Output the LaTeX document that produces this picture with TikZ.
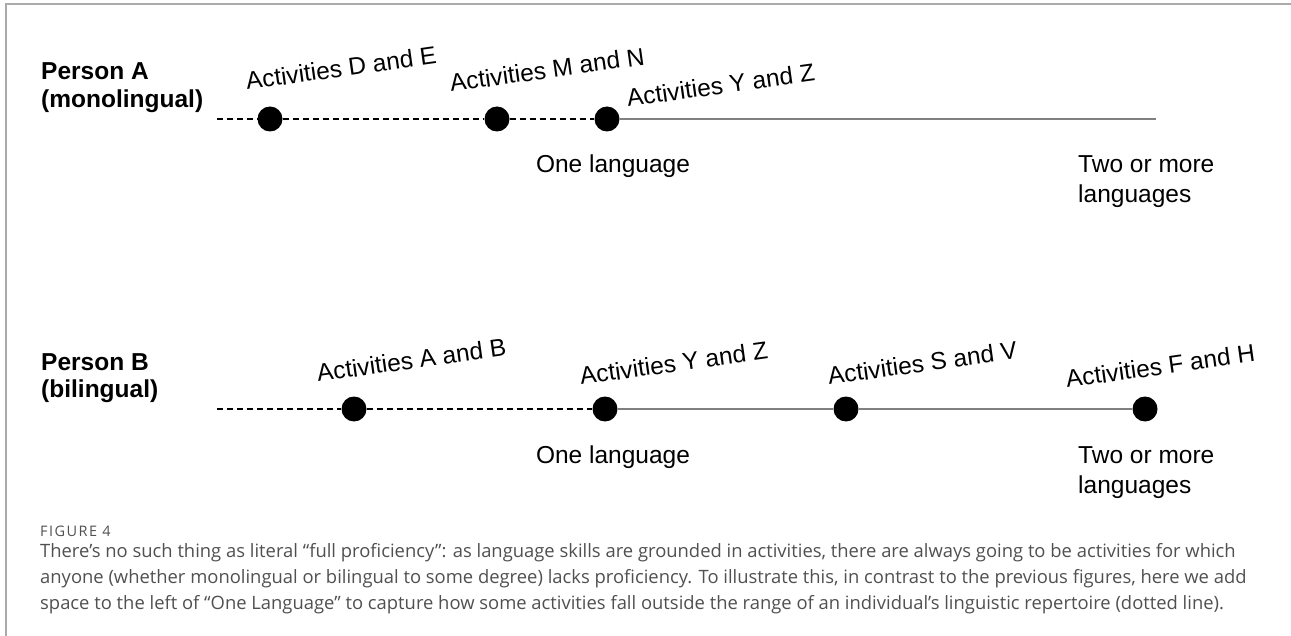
\documentclass[tikz,border=0pt]{standalone}
\usepackage{fontspec}
\setmainfont{Liberation Sans}
\newfontfamily\capfont{Open Sans}
\newfontfamily\figfont[LetterSpace=10]{Open Sans}
\usetikzlibrary{positioning,calc}
\definecolor{framegray}{RGB}{170,170,170}
\definecolor{linegray}{RGB}{128,128,128}
\definecolor{capgray}{RGB}{80,80,80}

\begin{document}
\begin{tikzpicture}[
    x=1pt,
    y=-1pt,
    dot/.style ={
        circle,
        fill=black,
        inner sep=0pt,
        minimum size=25pt
    },
    act/.style ={
        anchor=base west,
        rotate=8,
        inner sep=0pt,
        font=\fontsize{24.5}{28}\selectfont
    },
    txt/.style ={
        inner sep=0pt,
        align=left,
        font=\fontsize{24.5}{30}\selectfont
    },
    who/.style ={
        inner sep=0pt,
        align=left,
        anchor=base west,
        font=\bfseries\fontsize{24.5}{28}\selectfont
    },
    dashline/.style ={
        line width=1.5pt,
        dash pattern=on 6pt off 4pt
    },
    solidline/.style ={
        line width=2pt,
        linegray
    }
    ]
    \useasboundingbox (0,0) rectangle (1291,636);
    \draw[framegray, line width=1.5pt] (6,636) -- (6,4) -- (1291,4);

    % dots on both lines
    \foreach \n/ \px/ \py in {de/270/119, mn/497/119, ayz/607/119,
                            ab/354/409, byz/605/409, sv/846/409, fh/1145/409}
        \node[dot] (\n) at (\px,\py) {};

    \coordinate (astart) at (217,119);
    \coordinate (aend) at (1156,119);
    \coordinate (bstart) at (217,409);

    \draw[dashline] (astart) -- (de) -- (mn) -- (ayz);
    \draw[solidline] (ayz) -- (aend);
    \draw[dashline] (bstart) -- (ab) -- (byz);
    \draw[solidline] (byz) -- (sv) -- (fh);

    % slanted activity labels
    \foreach \n/ \txt/ \dx/ \dy in {de/D and E/-23/-29, mn/M and N/-46/-27, ayz/Y and Z/21/-12,
                                ab/A and B/-36/-27, byz/Y and Z/-24/-24, sv/S and V/-17/-24,
                                fh/F and H/-78/-21}
        \node[act] (l\n) at ($(\n)+(\dx,\dy)$) {Activities \txt};

    \node[who] (pa) at (41,108) {Person A\\(monolingual)};
    \node[who] (pb) at (41,398) {Person B\\(bilingual)};

    \node[txt, anchor=base] (onea) at (613,173) {One language};
    \node[txt, anchor=base] (oneb) at (613,463) {One language};
    \node[txt, anchor=base west] (twoa) at (1078,203) {Two or more\\languages};
    \node[txt, anchor=base west] (twob) at (1078,493) {Two or more\\languages};

    % caption
    \node[anchor=base west, inner sep=0pt, text=capgray, font=\figfont\fontsize{14.5}{14.5}\selectfont] (fig) at (40,536) {FIGURE 4};
    \node[anchor=base west, inner sep=0pt, align=left, text=capgray,
          font=\capfont\fontsize{18.4}{26}\selectfont] (cap) at (40,609)
        {There’s no such thing as literal “full proficiency”: as language skills are grounded in activities, there are always going to be activities for which\\
         anyone (whether monolingual or bilingual to some degree) lacks proficiency. To illustrate this, in contrast to the previous figures, here we add\\
         space to the left of “One Language” to capture how some activities fall outside the range of an individual’s linguistic repertoire (dotted line).};
\end{tikzpicture}
\end{document}
